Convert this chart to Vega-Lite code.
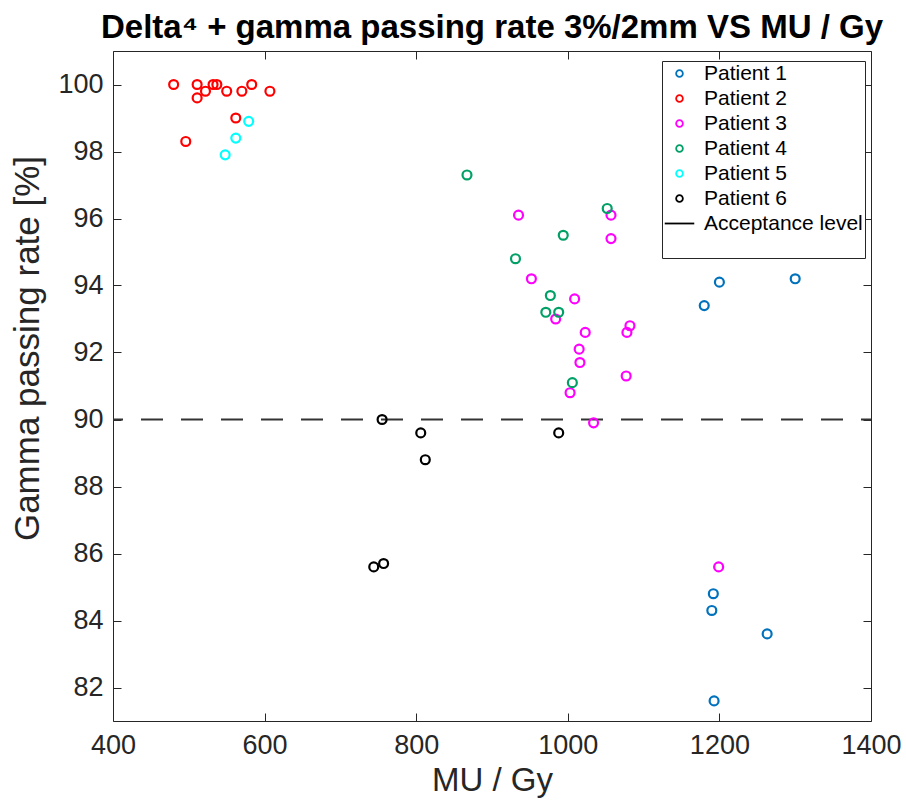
{
  "$schema": "https://vega.github.io/schema/vega-lite/v6.json",
  "width": 758,
  "height": 670,
  "autosize": {"type": "none"},
  "padding": {"left": 113, "top": 51, "right": 35, "bottom": 83},
  "background": "white",
  "title": {
    "text": "Delta⁴ + gamma passing rate 3%/2mm VS MU / Gy",
    "fontSize": 33,
    "fontWeight": "bold",
    "font": "Liberation Sans",
    "color": "#000000",
    "anchor": "middle",
    "baseline": "alphabetic",
    "offset": 13,
    "dy": 33
  },
  "config": {
    "view": {"stroke": "#262626", "strokeWidth": 1},
    "font": "Liberation Sans",
    "axis": {
      "grid": false,
      "domain": false,
      "tickColor": "#262626",
      "tickSize": -8,
      "tickWidth": 1,
      "labelFlush": false,
      "labelColor": "#262626",
      "titleColor": "#262626",
      "labelFont": "Liberation Sans",
      "titleFont": "Liberation Sans",
      "titleFontWeight": "normal"
    }
  },
  "datasets": {
    "pts": [
      {"patient": "Patient 1", "mu": 1180, "rate": 93.4},
      {"patient": "Patient 1", "mu": 1200, "rate": 94.1},
      {"patient": "Patient 1", "mu": 1300, "rate": 94.2},
      {"patient": "Patient 1", "mu": 1192, "rate": 84.8},
      {"patient": "Patient 1", "mu": 1190, "rate": 84.3},
      {"patient": "Patient 1", "mu": 1263, "rate": 83.6},
      {"patient": "Patient 1", "mu": 1193, "rate": 81.6},
      {"patient": "Patient 2", "mu": 480, "rate": 100},
      {"patient": "Patient 2", "mu": 511, "rate": 100},
      {"patient": "Patient 2", "mu": 511, "rate": 99.6},
      {"patient": "Patient 2", "mu": 522, "rate": 99.8},
      {"patient": "Patient 2", "mu": 532, "rate": 100},
      {"patient": "Patient 2", "mu": 537, "rate": 100},
      {"patient": "Patient 2", "mu": 550, "rate": 99.8},
      {"patient": "Patient 2", "mu": 570, "rate": 99.8},
      {"patient": "Patient 2", "mu": 583, "rate": 100},
      {"patient": "Patient 2", "mu": 607, "rate": 99.8},
      {"patient": "Patient 2", "mu": 562, "rate": 99.0},
      {"patient": "Patient 2", "mu": 496, "rate": 98.3},
      {"patient": "Patient 3", "mu": 935, "rate": 96.1},
      {"patient": "Patient 3", "mu": 1057, "rate": 96.1},
      {"patient": "Patient 3", "mu": 1057, "rate": 95.4},
      {"patient": "Patient 3", "mu": 952, "rate": 94.2},
      {"patient": "Patient 3", "mu": 1009, "rate": 93.6},
      {"patient": "Patient 3", "mu": 984, "rate": 93.0},
      {"patient": "Patient 3", "mu": 1023, "rate": 92.6},
      {"patient": "Patient 3", "mu": 1082, "rate": 92.8},
      {"patient": "Patient 3", "mu": 1078, "rate": 92.6},
      {"patient": "Patient 3", "mu": 1015, "rate": 92.1},
      {"patient": "Patient 3", "mu": 1016, "rate": 91.7},
      {"patient": "Patient 3", "mu": 1077, "rate": 91.3},
      {"patient": "Patient 3", "mu": 1003, "rate": 90.8},
      {"patient": "Patient 3", "mu": 1034, "rate": 89.9},
      {"patient": "Patient 3", "mu": 1199, "rate": 85.6},
      {"patient": "Patient 4", "mu": 867, "rate": 97.3},
      {"patient": "Patient 4", "mu": 1052, "rate": 96.3},
      {"patient": "Patient 4", "mu": 994, "rate": 95.5},
      {"patient": "Patient 4", "mu": 931, "rate": 94.8},
      {"patient": "Patient 4", "mu": 977, "rate": 93.7},
      {"patient": "Patient 4", "mu": 971, "rate": 93.2},
      {"patient": "Patient 4", "mu": 988, "rate": 93.2},
      {"patient": "Patient 4", "mu": 1006, "rate": 91.1},
      {"patient": "Patient 5", "mu": 579, "rate": 98.9},
      {"patient": "Patient 5", "mu": 562, "rate": 98.4},
      {"patient": "Patient 5", "mu": 548, "rate": 97.9},
      {"patient": "Patient 6", "mu": 755, "rate": 90.0},
      {"patient": "Patient 6", "mu": 806, "rate": 89.6},
      {"patient": "Patient 6", "mu": 812, "rate": 88.8},
      {"patient": "Patient 6", "mu": 988, "rate": 89.6},
      {"patient": "Patient 6", "mu": 744, "rate": 85.6},
      {"patient": "Patient 6", "mu": 757, "rate": 85.7}
    ],
    "level": [{"rate": 90}]
  },
  "layer": [
    {
      "data": {"name": "level"},
      "mark": {"type": "rule", "color": "#333333", "strokeWidth": 2, "strokeDash": [22, 18], "strokeDashOffset": 12},
      "encoding": {
        "y": {"field": "rate", "type": "quantitative", "axis": null, "scale": {"domain": [81, 101], "nice": false, "zero": false}}
      }
    },
    {
      "data": {"name": "pts"},
      "mark": {"type": "point", "filled": false, "strokeWidth": 2.2, "size": 80, "opacity": 1},
      "encoding": {
        "x": {
          "field": "mu", "type": "quantitative",
          "scale": {"domain": [400, 1400], "nice": false, "zero": false},
          "axis": {"orient": "bottom", "values": [400, 600, 800, 1000, 1200, 1400], "format": "d", "labelFontSize": 27, "labelPadding": 19, "title": "MU / Gy", "titleFontSize": 33, "titlePadding": 6}
        },
        "y": {
          "field": "rate", "type": "quantitative",
          "scale": {"domain": [81, 101], "nice": false, "zero": false},
          "axis": {"orient": "left", "values": [82, 84, 86, 88, 90, 92, 94, 96, 98, 100], "labelFontSize": 27, "labelPadding": 18, "title": "Gamma passing rate [%]", "titleFontSize": 35, "titlePadding": 12, "titleY": 297}
        },
        "color": {
          "field": "patient", "type": "nominal",
          "scale": {
            "domain": ["Patient 1", "Patient 2", "Patient 3", "Patient 4", "Patient 5", "Patient 6", "Acceptance level"],
            "range": ["#0072BD", "#FF0000", "#FF00FF", "#00A066", "#00FFFF", "#000000", "#000000"]
          },
          "legend": {
            "orient": "none",
            "legendX": 549,
            "legendY": 10,
            "title": " ",
            "titleOrient": "bottom",
            "titleFontSize": 12,
            "titlePadding": 11,
            "strokeColor": "#262626",
            "fillColor": "white",
            "padding": 2,
            "symbolOffset": 5,
            "symbolSize": 45,
            "symbolStrokeWidth": 1.8,
            "labelFontSize": 21,
            "labelColor": "#000000",
            "labelOffset": 14,
            "rowPadding": 3,
            "labelLimit": 300
          }
        },
        "shape": {
          "field": "patient", "type": "nominal",
          "scale": {
            "domain": ["Patient 1", "Patient 2", "Patient 3", "Patient 4", "Patient 5", "Patient 6", "Acceptance level"],
            "range": ["circle", "circle", "circle", "circle", "circle", "circle", "M-4.4,0L4.4,0"]
          }
        }
      }
    },
    {
      "data": {"name": "pts"},
      "mark": {"type": "point", "opacity": 0},
      "encoding": {
        "x": {
          "field": "mu", "type": "quantitative",
          "scale": {"domain": [400, 1400], "nice": false, "zero": false},
          "axis": {"orient": "top", "values": [400, 600, 800, 1000, 1200, 1400], "labels": false, "title": null, "minExtent": 0, "maxExtent": 0}
        },
        "y": {
          "field": "rate", "type": "quantitative",
          "scale": {"domain": [81, 101], "nice": false, "zero": false},
          "axis": {"orient": "right", "values": [82, 84, 86, 88, 90, 92, 94, 96, 98, 100], "labels": false, "title": null, "minExtent": 0, "maxExtent": 0}
        }
      }
    }
  ],
  "resolve": {"axis": {"x": "independent", "y": "independent"}}
}
